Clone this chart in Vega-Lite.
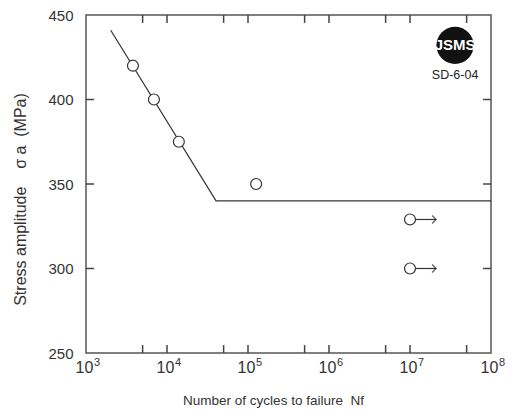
{
  "$schema": "https://vega.github.io/schema/vega-lite/v6.json",
  "autosize": "none",
  "width": 405,
  "height": 338,
  "padding": {"left": 86, "top": 15, "right": 21, "bottom": 60},
  "background": "white",
  "config": {
    "view": {"stroke": "#555", "strokeWidth": 1.5},
    "font": "Liberation Sans",
    "axis": {
      "grid": false,
      "domain": false,
      "ticks": false,
      "labelColor": "#333",
      "labelFont": "Liberation Sans",
      "labelFontSize": 15,
      "labelFlush": false,
      "labelOverlap": false,
      "titleColor": "#333",
      "titleFont": "Liberation Sans",
      "titleFontWeight": "normal",
      "titleFontSize": 13.5
    }
  },
  "datasets": {
    "curve": [
      {"N": 2020, "S": 441},
      {"N": 40300, "S": 340},
      {"N": 100000000, "S": 340}
    ],
    "points": [
      {"N": 3800, "S": 420},
      {"N": 6900, "S": 400},
      {"N": 14000, "S": 375},
      {"N": 126000, "S": 350},
      {"N": 10000000, "S": 329},
      {"N": 10000000, "S": 300}
    ],
    "runout": [
      {"N": 10000000, "N2": 21000000, "S": 329},
      {"N": 10000000, "N2": 21000000, "S": 300}
    ],
    "logo": [
      {"N": 36000000, "S": 432, "mark": "JSMS", "code": "SD-6-04", "S2": 414.5}
    ],
    "xticks": [
      {"N": 5000}, {"N": 10000}, {"N": 50000}, {"N": 100000}, {"N": 500000},
      {"N": 1000000}, {"N": 5000000}, {"N": 10000000}, {"N": 50000000}
    ],
    "yticks": [{"S": 300}, {"S": 350}, {"S": 400}]
  },
  "resolve": {"axis": {"x": "independent", "y": "independent"}},
  "layer": [
    {
      "data": {"name": "curve"},
      "mark": {"type": "line", "color": "#333", "strokeWidth": 1.2},
      "encoding": {
        "x": {
          "field": "N", "type": "quantitative",
          "scale": {"type": "log", "domain": [1000, 100000000], "nice": false},
          "axis": {
            "orient": "bottom",
            "values": [1000, 10000, 100000, 1000000, 10000000, 100000000],
            "labelExpr": "'10'",
            "labelFontSize": 16,
            "labelOffset": -2,
            "labelPadding": 6,
            "title": "Number of cycles to failure\u00a0\u00a0Nf",
            "titleX": 187,
            "titleY": 47,
            "titleBaseline": "middle"
          }
        },
        "y": {
          "field": "S", "type": "quantitative",
          "scale": {"domain": [250, 450], "nice": false, "zero": false},
          "axis": {
            "orient": "left",
            "values": [250, 300, 350, 400, 450],
            "labelPadding": 13,
            "title": "Stress amplitude\u00a0\u00a0\u00a0\u00a0σ\u00a0a\u00a0\u00a0(MPa)",
            "titleFontSize": 16,
            "titleX": -66,
            "titleY": 184,
            "titleBaseline": "middle"
          }
        }
      }
    },
    {
      "data": {"name": "runout"},
      "mark": {"type": "rule", "color": "#333", "strokeWidth": 1.2},
      "encoding": {
        "x": {
          "field": "N", "type": "quantitative",
          "axis": {
            "orient": "bottom",
            "values": [1000, 10000, 100000, 1000000, 10000000, 100000000],
            "labelExpr": "'' + round(log(datum.value)/LN10)",
            "labelFontSize": 11,
            "labelOffset": 10.5,
            "labelPadding": 3,
            "title": null
          }
        },
        "x2": {"field": "N2"},
        "y": {"field": "S", "type": "quantitative", "axis": null}
      }
    },
    {
      "data": {"name": "runout"},
      "mark": {"type": "point", "shape": "M-1,-1L0,0L-1,1", "size": 64, "filled": false, "stroke": "#222", "strokeWidth": 1.3},
      "encoding": {
        "x": {"field": "N2", "type": "quantitative", "axis": null},
        "y": {"field": "S", "type": "quantitative", "axis": null}
      }
    },
    {
      "data": {"name": "xticks"},
      "mark": {"type": "rule", "color": "#444", "strokeWidth": 1.5},
      "encoding": {
        "x": {"field": "N", "type": "quantitative", "axis": null},
        "y": {"datum": 250, "type": "quantitative", "axis": null},
        "y2": {"datum": 254.7}
      }
    },
    {
      "data": {"name": "xticks"},
      "mark": {"type": "rule", "color": "#444", "strokeWidth": 1.5},
      "encoding": {
        "x": {"field": "N", "type": "quantitative", "axis": null},
        "y": {"datum": 450, "type": "quantitative", "axis": null},
        "y2": {"datum": 445.3}
      }
    },
    {
      "data": {"name": "yticks"},
      "mark": {"type": "rule", "color": "#444", "strokeWidth": 1.5},
      "encoding": {
        "x": {"datum": 1000, "type": "quantitative", "axis": null},
        "x2": {"datum": 1255},
        "y": {"field": "S", "type": "quantitative", "axis": null}
      }
    },
    {
      "data": {"name": "yticks"},
      "mark": {"type": "rule", "color": "#444", "strokeWidth": 1.5},
      "encoding": {
        "x": {"datum": 100000000, "type": "quantitative", "axis": null},
        "x2": {"datum": 79660000},
        "y": {"field": "S", "type": "quantitative", "axis": null}
      }
    },
    {
      "data": {"name": "points"},
      "mark": {"type": "point", "shape": "circle", "size": 120, "filled": true, "fill": "white", "stroke": "#333", "strokeWidth": 1.2, "opacity": 1},
      "encoding": {
        "x": {"field": "N", "type": "quantitative", "axis": null},
        "y": {"field": "S", "type": "quantitative", "axis": null}
      }
    },
    {
      "data": {"name": "logo"},
      "mark": {"type": "point", "shape": "circle", "size": 1385, "filled": true, "color": "#111", "opacity": 1},
      "encoding": {
        "x": {"field": "N", "type": "quantitative", "axis": null},
        "y": {"field": "S", "type": "quantitative", "axis": null}
      }
    },
    {
      "data": {"name": "logo"},
      "mark": {"type": "text", "color": "white", "fontSize": 15, "fontWeight": "bold", "font": "Liberation Sans", "baseline": "middle", "align": "center"},
      "encoding": {
        "x": {"field": "N", "type": "quantitative", "axis": null},
        "y": {"field": "S", "type": "quantitative", "axis": null},
        "text": {"field": "mark"}
      }
    },
    {
      "data": {"name": "logo"},
      "mark": {"type": "text", "color": "#222", "fontSize": 12.5, "font": "Liberation Sans", "baseline": "middle", "align": "center"},
      "encoding": {
        "x": {"field": "N", "type": "quantitative", "axis": null},
        "y": {"field": "S2", "type": "quantitative", "axis": null},
        "text": {"field": "code"}
      }
    }
  ]
}
